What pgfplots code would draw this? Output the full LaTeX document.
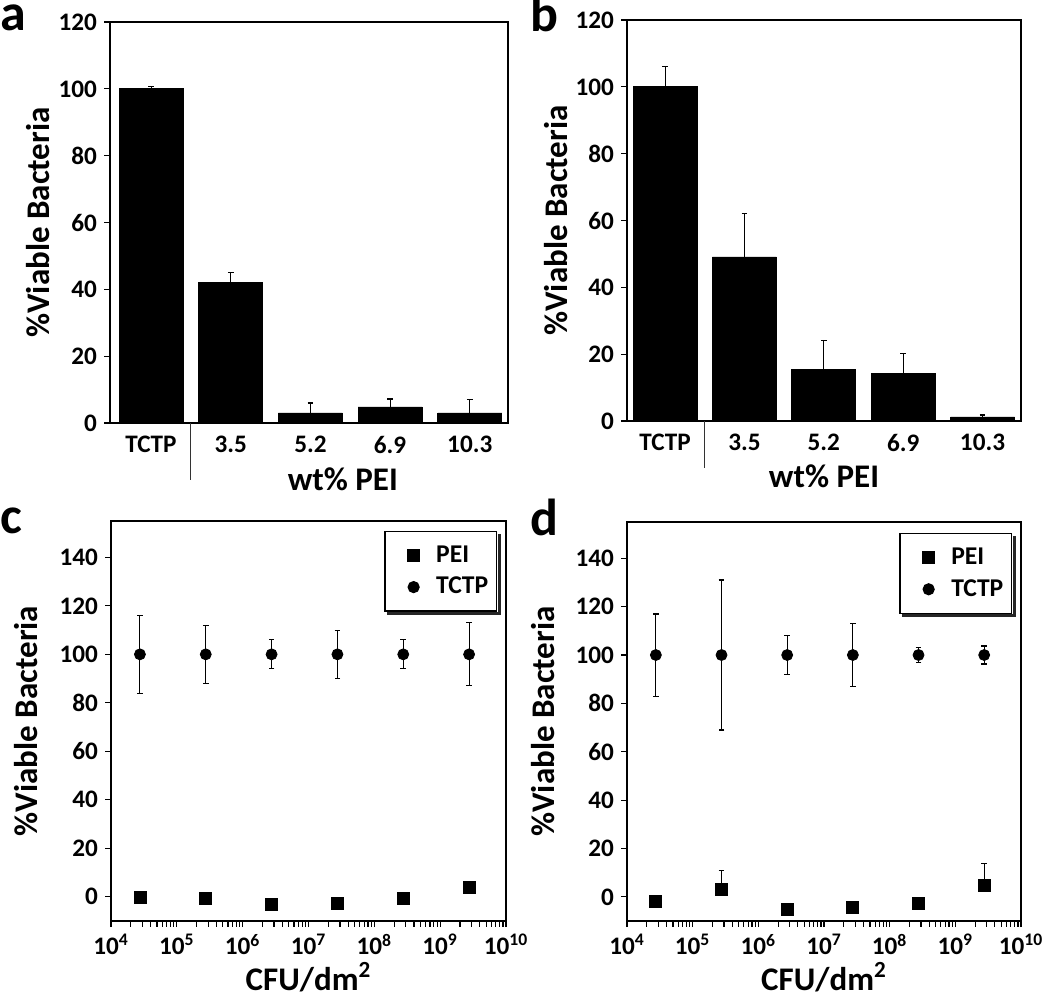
\documentclass[border=0pt]{standalone}
\usepackage{fontspec}
\setmainfont{Carlito}
\usepackage{pgfplots}
\usepackage{pgfplotstable}
\pgfplotsset{compat=1.18}

\pgfplotstableread{
x y e
0 100 0.8
1 42 3
2 3 3
3 4.8 2.4
4 3 4
}\dataA
\pgfplotstableread{
x y e
0 100 6
1 49.1 13
2 15.3 8.7
3 14.1 6
4 1.2 0.6
}\dataB
\pgfplotstableread{
x y e
2.75e4 100 16
2.75e5 100 12
2.75e6 100 6
2.75e7 100 10
2.75e8 100 6
2.75e9 100 13
}\dataCT
\pgfplotstableread{
x y e
2.75e4 -0.3 0
2.75e5 -0.8 0
2.75e6 -3.2 0
2.75e7 -2.7 0
2.75e8 -0.7 0
2.75e9 3.8 2
}\dataCP
\pgfplotstableread{
x y e
2.75e4 100 17
2.75e5 100 31
2.75e6 100 8
2.75e7 100 13
2.75e8 100 3
2.75e9 100 3.7
}\dataDT
\pgfplotstableread{
x y e
2.75e4 -1.8 0
2.75e5 3.0 7.8
2.75e6 -5.2 0
2.75e7 -4.5 0
2.75e8 -2.7 0
2.75e9 4.8 9
}\dataDP

\pgfplotsset{
  every axis/.append style={
    scale only axis,
    axis line style={black, line width=0.6pt},
    tick style={black, line width=0.6pt},
    tick align=outside,
    major tick length=3pt,
    tick pos=left,
    /pgf/number format/assume math mode=true,
    tick label style={font=\fontsize{12.6}{14}\selectfont\bfseries},
    label style={font=\fontsize{16.5}{19}\selectfont\bfseries},
  },
}
\newcommand{\sps}[1]{10\textsuperscript{#1}}

\begin{document}
\begin{tikzpicture}
\useasboundingbox (0pt,0pt) rectangle (525pt,-498pt);

% panel a
\begin{axis}[at={(55pt,-211.5pt)}, anchor=south west,
  width=199pt, height=200.5pt, xmin=-0.515, xmax=4.48,
  clip=false, ymin=0, ymax=120, ytick={0,20,...,120},
  xtick={0,1,2,3,4}, xticklabels={TCTP,3.5,5.2,6.9,10.3},
  xtick style={draw=none},
  xlabel={wt\% PEI}, ylabel={\%Viable Bacteria},
  xlabel style={at={(axis description cs:0.585,0)}, anchor=base, yshift=-33.5pt},
  ylabel style={at={(axis description cs:-0.1508,0.5)}, anchor=base}]
\addplot[ybar, bar width=32pt, fill=black, draw=black,
  error bars/y dir=plus, error bars/y explicit,
  error bars/error bar style={black, line width=0.5pt},
  error bars/error mark options={rotate=90, black, line width=0.6pt, mark size=1.4pt}]
  table[x=x, y=y, y error=e] {\dataA};
\draw[black!80, line width=0.5pt] (axis cs:0.5,0) -- ++(0pt,-28.5pt);
\end{axis}

% panel b
\begin{axis}[at={(313.5pt,-210.5pt)}, anchor=south west,
  width=197pt, height=200.5pt, xmin=-0.48, xmax=4.485,
  clip=false, ymin=0, ymax=120, ytick={0,20,...,120},
  xtick={0,1,2,3,4}, xticklabels={TCTP,3.5,5.2,6.9,10.3},
  xtick style={draw=none},
  xlabel={wt\% PEI}, ylabel={\%Viable Bacteria},
  xlabel style={at={(axis description cs:0.5,0)}, anchor=base, yshift=-33pt},
  ylabel style={at={(axis description cs:-0.152,0.5)}, anchor=base}]
\addplot[ybar, bar width=32pt, fill=black, draw=black,
  error bars/y dir=plus, error bars/y explicit,
  error bars/error bar style={black, line width=0.5pt},
  error bars/error mark options={rotate=90, black, line width=0.6pt, mark size=1.4pt}]
  table[x=x, y=y, y error=e] {\dataB};
\draw[black!80, line width=0.5pt] (axis cs:0.5,0) -- ++(0pt,-23.5pt);
\end{axis}

% panel c
\begin{axis}[at={(55.5pt,-460.5pt)}, anchor=south west,
  width=197.5pt, height=200pt,
  xmode=log, xmin=1e4, xmax=1e10,
  xtick={1e4,1e5,1e6,1e7,1e8,1e9,1e10},
  xticklabels={\sps{4},\sps{5},\sps{6},\sps{7},\sps{8},\sps{9},\sps{10}},
  ymin=-10, ymax=155, ytick={0,20,...,140},
  xlabel={CFU/dm\textsuperscript{2}}, ylabel={\%Viable Bacteria},
  xlabel style={at={(axis description cs:0.5,0)}, anchor=base, yshift=-34.5pt},
  ylabel style={at={(axis description cs:-0.185,0.5)}, anchor=base},
  legend cell align=left,
  legend image code/.code={\path (-12pt,0pt) (9pt,0pt); \draw[#1] plot coordinates {(0pt,0pt)};},
  legend style={name=legc, at={(axis description cs:0.977,0.975)}, anchor=north east,
    fill=white, draw=black, line width=0.6pt,
    font=\fontsize{12.8}{15}\selectfont\bfseries,
    inner xsep=2pt, inner ysep=5pt, row sep=2pt}]
\addplot[only marks, mark=square*, mark size=3pt, black,
  error bars/y dir=plus, error bars/y explicit,
  error bars/error bar style={black, line width=0.5pt},
  error bars/error mark options={rotate=90, black, line width=0.6pt, mark size=1.4pt}]
  table[x=x, y=y, y error=e] {\dataCP};
\addlegendentry{PEI}
\addplot[only marks, mark=*, mark size=2.75pt, black,
  error bars/y dir=both, error bars/y explicit,
  error bars/error bar style={black, line width=0.5pt},
  error bars/error mark options={rotate=90, black, line width=0.6pt, mark size=1.4pt}]
  table[x=x, y=y, y error=e] {\dataCT};
\addlegendentry{TCTP}
\end{axis}
\draw[black!85, line width=1.5pt] ([xshift=1.05pt, yshift=-1.5pt]legc.north east) -- ([xshift=1.05pt, yshift=-1.05pt]legc.south east) -- ([xshift=1.5pt, yshift=-1.05pt]legc.south west);

% panel d
\begin{axis}[at={(313.5pt,-460.5pt)}, anchor=south west,
  width=197pt, height=199.5pt,
  xmode=log, xmin=1e4, xmax=1e10,
  xtick={1e4,1e5,1e6,1e7,1e8,1e9,1e10},
  xticklabels={\sps{4},\sps{5},\sps{6},\sps{7},\sps{8},\sps{9},\sps{10}},
  ymin=-10, ymax=155, ytick={0,20,...,140},
  xlabel={CFU/dm\textsuperscript{2}}, ylabel={\%Viable Bacteria},
  xlabel style={at={(axis description cs:0.5,0)}, anchor=base, yshift=-34.5pt},
  ylabel style={at={(axis description cs:-0.183,0.5)}, anchor=base},
  legend cell align=left,
  legend image code/.code={\path (-12pt,0pt) (9pt,0pt); \draw[#1] plot coordinates {(0pt,0pt)};},
  legend style={name=legd, at={(axis description cs:0.977,0.972)}, anchor=north east,
    fill=white, draw=black, line width=0.6pt,
    font=\fontsize{12.8}{15}\selectfont\bfseries,
    inner xsep=2pt, inner ysep=5pt, row sep=2pt}]
\addplot[only marks, mark=square*, mark size=3pt, black,
  error bars/y dir=plus, error bars/y explicit,
  error bars/error bar style={black, line width=0.5pt},
  error bars/error mark options={rotate=90, black, line width=0.6pt, mark size=1.4pt}]
  table[x=x, y=y, y error=e] {\dataDP};
\addlegendentry{PEI}
\addplot[only marks, mark=*, mark size=2.75pt, black,
  error bars/y dir=both, error bars/y explicit,
  error bars/error bar style={black, line width=0.5pt},
  error bars/error mark options={rotate=90, black, line width=0.6pt, mark size=1.4pt}]
  table[x=x, y=y, y error=e] {\dataDT};
\addlegendentry{TCTP}
\end{axis}
\draw[black!85, line width=1.5pt] ([xshift=1.05pt, yshift=-1.5pt]legd.north east) -- ([xshift=1.05pt, yshift=-1.05pt]legd.south east) -- ([xshift=1.5pt, yshift=-1.05pt]legd.south west);

\node[anchor=base west, inner sep=0pt, font=\fontsize{26}{30}\selectfont\bfseries] at (0pt,-15pt) {a};
\node[anchor=base west, inner sep=0pt, font=\fontsize{26}{30}\selectfont\bfseries] at (265pt,-15.5pt) {b};
\node[anchor=base west, inner sep=0pt, font=\fontsize{26}{30}\selectfont\bfseries] at (0pt,-266.5pt) {c};
\node[anchor=base west, inner sep=0pt, font=\fontsize{26}{30}\selectfont\bfseries] at (265pt,-267.5pt) {d};
\end{tikzpicture}
\end{document}
